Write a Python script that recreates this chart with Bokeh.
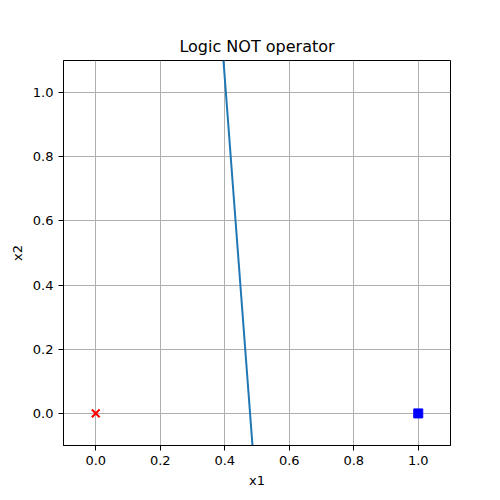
from bokeh.plotting import figure
from bokeh.embed import file_html
from bokeh.resources import INLINE
from bokeh.models import FixedTicker, Range1d

# data
boundary_x1 = [0.486, 0.396]
boundary_x2 = [-0.1, 1.1]
neg_x1 = [0.0]
neg_x2 = [0.0]
pos_x1 = [1.0]
pos_x2 = [0.0]
ticks = [0.0, 0.2, 0.4, 0.6, 0.8, 1.0]

p = figure(width=490, height=490, output_backend="svg", toolbar_location=None,
           x_range=Range1d(-0.1, 1.1), y_range=Range1d(-0.1, 1.1),
           title="Logic NOT operator")
p.min_border_left = 63
p.min_border_right = 40
p.min_border_top = 60
p.min_border_bottom = 45

p.title.align = "center"
p.title.text_font = "DejaVu Sans"
p.title.text_font_size = "16px"
p.title.text_font_style = "normal"
p.title.text_color = "black"

p.outline_line_color = "black"
p.outline_line_width = 1
p.background_fill_color = "white"
p.border_fill_color = "white"

for ax in (p.xaxis[0], p.yaxis[0]):
    ax.ticker = FixedTicker(ticks=ticks)
    ax.major_label_overrides = {t: f"{t:.1f}" for t in ticks}
    ax.major_label_text_font = "DejaVu Sans"
    ax.major_label_text_font_size = "13px"
    ax.major_label_text_color = "black"
    ax.axis_label_text_font = "DejaVu Sans"
    ax.axis_label_text_font_size = "13px"
    ax.axis_label_text_font_style = "normal"
    ax.axis_label_text_color = "black"
    ax.minor_tick_line_color = None
    ax.major_tick_out = 5
    ax.major_tick_in = 0
    ax.major_tick_line_color = "black"
    ax.axis_line_color = "black"

p.xaxis.axis_label = "x1"
p.yaxis.axis_label = "x2"
p.yaxis.major_label_orientation = "horizontal"

p.grid.grid_line_color = "#b0b0b0"
p.grid.grid_line_width = 1
p.xgrid.ticker = FixedTicker(ticks=ticks)
p.ygrid.ticker = FixedTicker(ticks=ticks)

p.line(boundary_x1, boundary_x2, line_color="#1f77b4", line_width=2)
p.scatter(neg_x1, neg_x2, marker="x", size=11, line_color="red", line_width=2)
p.scatter(pos_x1, pos_x2, marker="square", size=9, fill_color="blue", line_color="blue")

open("out.html", "w").write(file_html(p, INLINE))
